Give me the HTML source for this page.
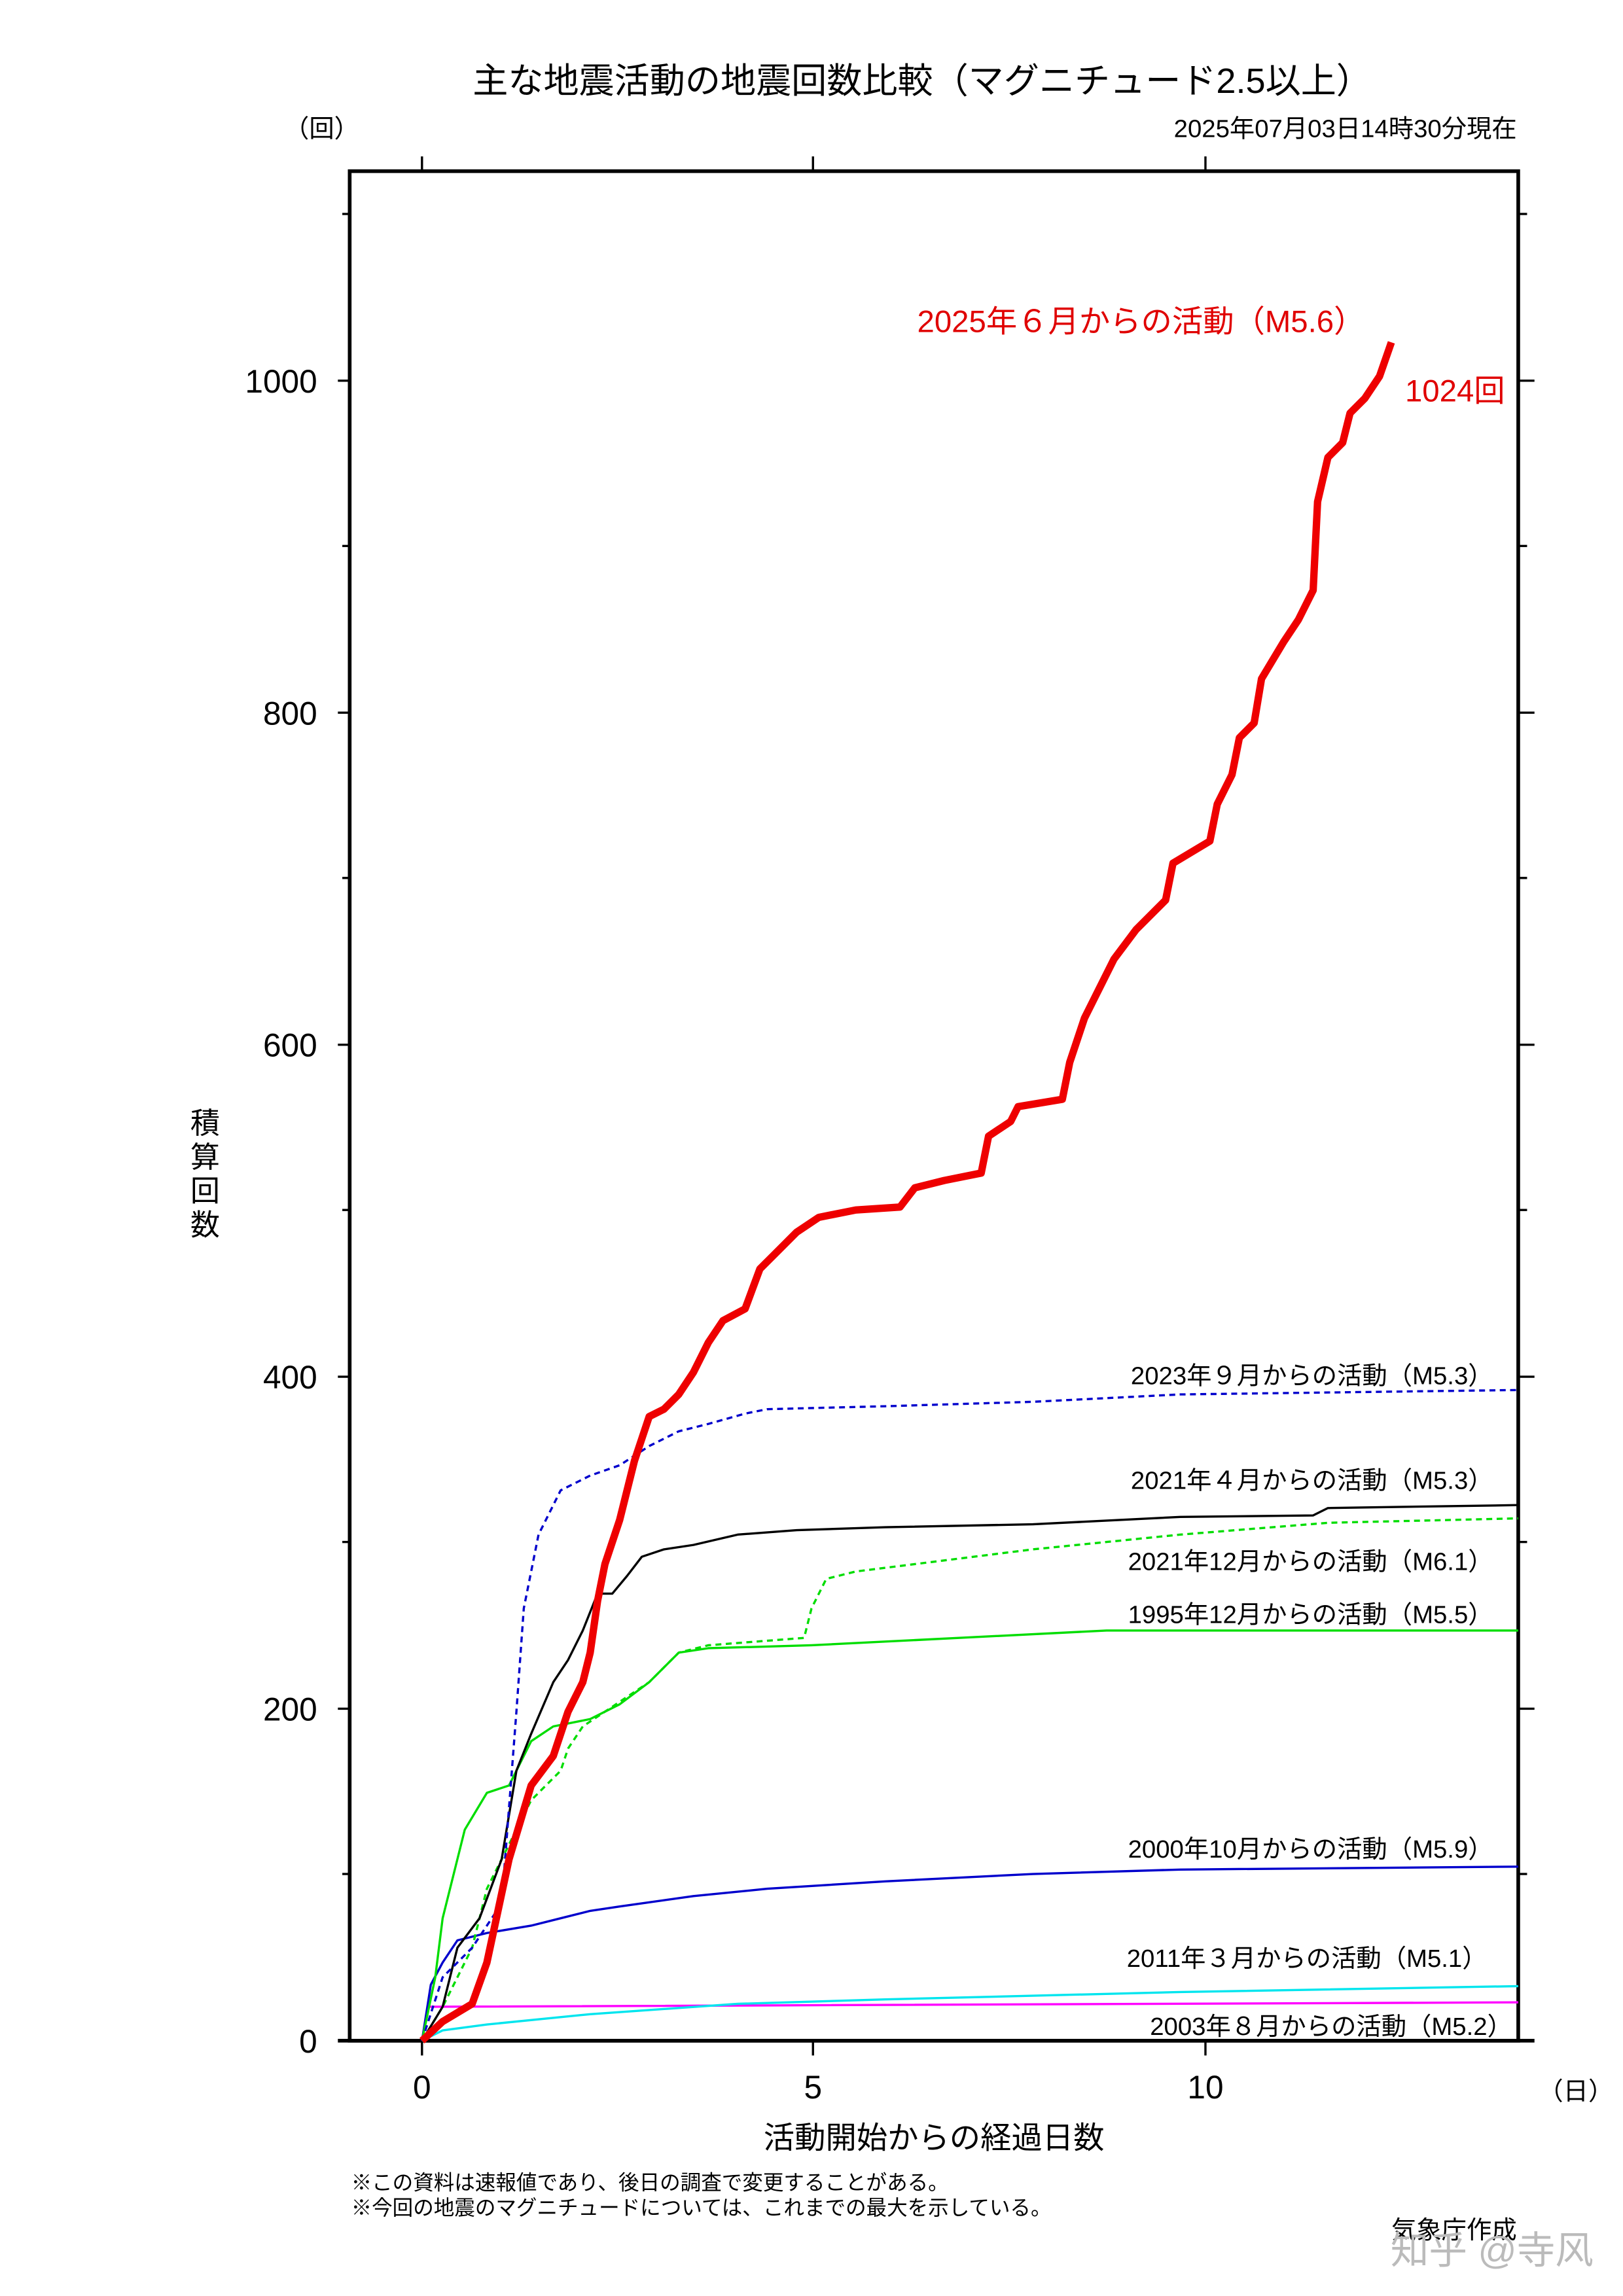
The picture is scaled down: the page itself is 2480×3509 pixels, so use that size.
<!DOCTYPE html>
<html><head><meta charset="utf-8"><style>
html,body{margin:0;padding:0;background:#fff;}
svg{display:block;}
text{font-family:"Liberation Sans","Noto Sans CJK JP",sans-serif;}
</style></head><body>
<svg width="2480" height="3509" viewBox="0 0 1100 1556" preserveAspectRatio="none" xmlns="http://www.w3.org/2000/svg">
<rect width="1100" height="1556" fill="#fff"/>
<text x="625" y="63" font-size="24" text-anchor="middle" fill="#000">主な地震活動の地震回数比較（マグニチュード2.5以上）</text>
<text x="218" y="93" font-size="17" text-anchor="middle">（回）</text>
<text x="1028" y="93" font-size="17" text-anchor="end">2025年07月03日14時30分現在</text>
<rect x="237" y="116" width="792" height="1267" fill="none" stroke="#000" stroke-width="2.5"/>
<line x1="229" y1="1383" x2="1040" y2="1383" stroke="#000" stroke-width="2.5"/>
<g stroke="#000" stroke-width="1.5">
<line x1="229" y1="1158" x2="237" y2="1158"/><line x1="229" y1="933" x2="237" y2="933"/><line x1="229" y1="708" x2="237" y2="708"/><line x1="229" y1="483" x2="237" y2="483"/><line x1="229" y1="258" x2="237" y2="258"/>
<line x1="232" y1="1270" x2="237" y2="1270"/><line x1="232" y1="1045" x2="237" y2="1045"/><line x1="232" y1="820" x2="237" y2="820"/><line x1="232" y1="595" x2="237" y2="595"/><line x1="232" y1="370" x2="237" y2="370"/><line x1="232" y1="145" x2="237" y2="145"/>
<line x1="1029" y1="1158" x2="1040" y2="1158"/><line x1="1029" y1="933" x2="1040" y2="933"/><line x1="1029" y1="708" x2="1040" y2="708"/><line x1="1029" y1="483" x2="1040" y2="483"/><line x1="1029" y1="258" x2="1040" y2="258"/>
<line x1="1029" y1="1270" x2="1035" y2="1270"/><line x1="1029" y1="1045" x2="1035" y2="1045"/><line x1="1029" y1="820" x2="1035" y2="820"/><line x1="1029" y1="595" x2="1035" y2="595"/><line x1="1029" y1="370" x2="1035" y2="370"/><line x1="1029" y1="145" x2="1035" y2="145"/>
<line x1="286" y1="106" x2="286" y2="116"/><line x1="551" y1="106" x2="551" y2="116"/><line x1="817" y1="106" x2="817" y2="116"/>
<line x1="286" y1="1383" x2="286" y2="1393"/><line x1="551" y1="1383" x2="551" y2="1393"/><line x1="817" y1="1383" x2="817" y2="1393"/>
</g>
<g font-size="22" text-anchor="end">
<text x="215" y="1391">0</text><text x="215" y="1166">200</text><text x="215" y="941">400</text><text x="215" y="716">600</text><text x="215" y="491">800</text><text x="215" y="266">1000</text>
</g>
<g font-size="22" text-anchor="middle">
<text x="286" y="1422">0</text><text x="551" y="1422">5</text><text x="817" y="1422">10</text>
</g>
<text x="1068" y="1423" font-size="17" text-anchor="middle">（日）</text>
<text x="633" y="1456" font-size="21" text-anchor="middle">活動開始からの経過日数</text>
<g font-size="20" text-anchor="middle"><text x="139" y="768">積</text><text x="139" y="791">算</text><text x="139" y="814">回</text><text x="139" y="837">数</text></g>
<text x="238" y="1484" font-size="14">※この資料は速報値であり、後日の調査で変更することがある。</text>
<text x="238" y="1501" font-size="14">※今回の地震のマグニチュードについては、これまでの最大を示している。</text>
<text x="1028" y="1517" font-size="17" text-anchor="end">気象庁作成</text>
<text x="1080" y="1534" font-size="26" text-anchor="end" fill="#bbb">知乎 @寺风</text>

<g fill="none" stroke-linejoin="round">
<polyline stroke="#ff00ff" stroke-width="1.5" points="286,1383 290,1360 1029,1357"/>
<polyline stroke="#00e5ee" stroke-width="1.5" points="286,1383 300,1376 330,1372 400,1365 500,1358 600,1355 800,1350 1029,1346"/>
<polyline stroke="#0000cc" stroke-width="1.5" points="286,1383 292,1345 300,1330 310,1315 330,1310 360,1305 380,1300 400,1295 420,1292 470,1285 520,1280 600,1275 700,1270 800,1267 1029,1265"/>
<polyline stroke="#00dd00" stroke-width="1.5" points="286,1383 295,1340 300,1300 315,1240 330,1215 345,1210 360,1180 375,1170 400,1165 420,1155 440,1140 460,1120 480,1117 550,1115 650,1110 750,1105 1029,1105"/>
<polyline stroke="#00dd00" stroke-width="1.5" stroke-dasharray="4,3" points="286,1383 300,1360 320,1320 330,1280 345,1250 360,1220 380,1200 385,1185 395,1170 410,1160 425,1150 440,1140 460,1120 480,1115 545,1110 550,1090 560,1070 580,1065 620,1060 700,1050 800,1040 900,1032 1029,1029"/>
<polyline stroke="#000" stroke-width="1.5" points="286,1383 300,1360 310,1320 325,1300 340,1260 350,1200 360,1175 375,1140 385,1125 395,1105 405,1080 415,1080 425,1068 435,1055 450,1050 470,1047 500,1040 540,1037 600,1035 700,1033 800,1028 890,1027 900,1022 1029,1020"/>
<polyline stroke="#0000cc" stroke-width="1.5" stroke-dasharray="4,3" points="286,1383 300,1340 320,1320 340,1290 350,1160 355,1090 365,1040 375,1020 380,1010 400,1000 420,993 440,980 460,970 480,965 505,958 520,955 600,953 700,950 800,945 1029,942"/>
<polyline stroke="#ee0000" stroke-width="5" points="286,1383 300,1370 320,1358 330,1330 345,1260 360,1210 375,1190 385,1160 395,1140 400,1120 405,1085 410,1060 420,1030 430,990 435,975 440,960 450,955 460,945 470,930 480,910 490,895 505,887 515,860 525,850 540,835 555,825 580,820 610,818 620,805 640,800 665,795 670,770 685,760 690,750 720,745 725,720 735,690 745,670 755,650 770,630 790,610 795,585 820,570 825,545 835,525 840,500 850,490 855,460 870,435 880,420 890,400 893,340 900,310 910,300 915,280 925,270 935,255 943,232"/>
</g>

<text x="925" y="225" font-size="21" fill="#e00000" text-anchor="end">2025年６月からの活動（M5.6）</text>
<text x="1020" y="272" font-size="21" fill="#e00000" text-anchor="end">1024回</text>
<g font-size="17" text-anchor="end">
<text x="1012" y="938">2023年９月からの活動（M5.3）</text>
<text x="1012" y="1009">2021年４月からの活動（M5.3）</text>
<text x="1012" y="1064">2021年12月からの活動（M6.1）</text>
<text x="1012" y="1100">1995年12月からの活動（M5.5）</text>
<text x="1012" y="1259">2000年10月からの活動（M5.9）</text>
<text x="1008" y="1333">2011年３月からの活動（M5.1）</text>
<text x="1025" y="1379">2003年８月からの活動（M5.2）</text>
</g>
</svg>
</body></html>
